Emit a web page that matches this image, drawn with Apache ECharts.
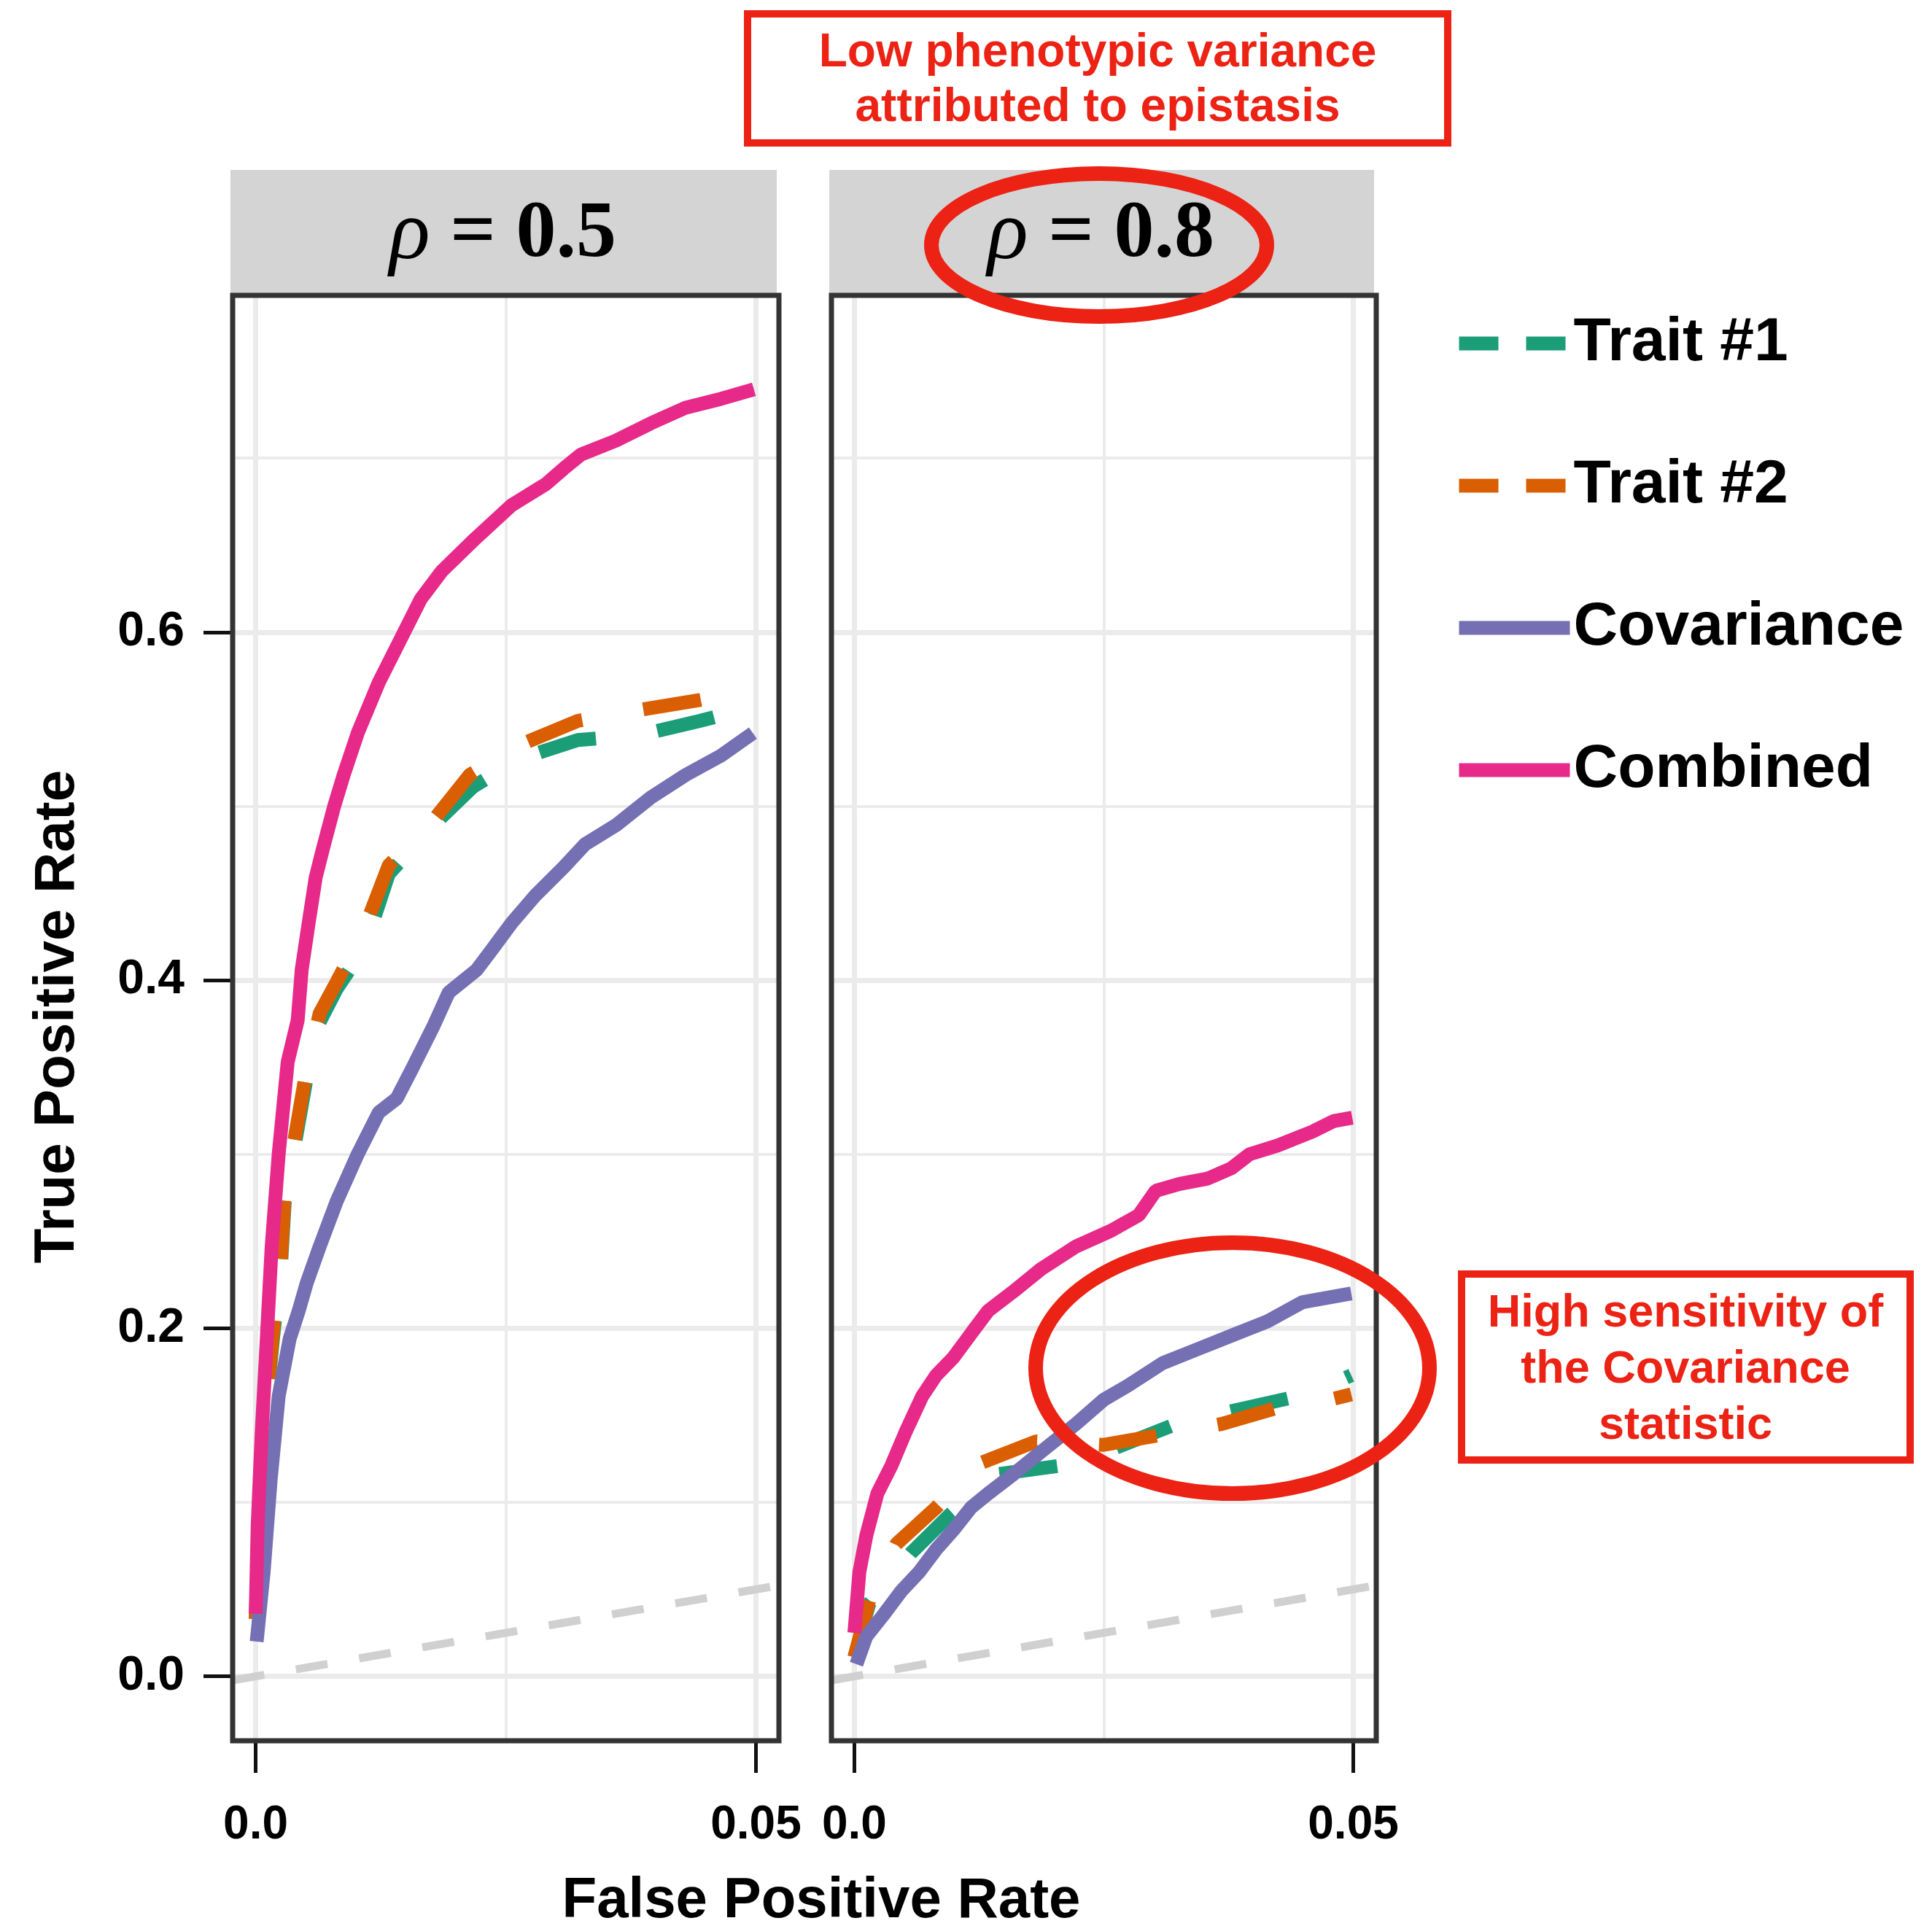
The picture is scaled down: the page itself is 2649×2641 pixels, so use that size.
<!DOCTYPE html>
<html>
<head>
<meta charset="utf-8">
<script src="https://cdn.jsdelivr.net/npm/echarts@6/dist/echarts.min.js"></script>
<style>
  html, body { margin: 0; padding: 0; background: #fff; }
  #chart { width: 2649px; height: 2641px; }
</style>
</head>
<body>
<div id="chart"></div>
<script>
// facet labels and legend names
const panelRho = ['0.5', '0.8']
const seriesNames = ['Trait #1', 'Trait #2', 'Covariance', 'Combined']

// ticks
const xTickValues = [0, 0.05]
const xTickLabels = ['0.0', '0.05']
const xMinorValues = [0.025]
const yTickValues = [0, 0.2, 0.4, 0.6]
const yTickLabels = ['0.0', '0.2', '0.4', '0.6']
const yMinorValues = [0.1, 0.3, 0.5, 0.7]

// rho = 0.5  [FPR, TPR]
const trait1Rho05 = [[0, 0.033], [0.0005, 0.10], [0.0012, 0.163], [0.0018, 0.198], [0.0025, 0.233], [0.0029, 0.272], [0.0039, 0.305], [0.0051, 0.344], [0.0064, 0.376], [0.0081, 0.395], [0.0109, 0.419], [0.0133, 0.461], [0.0172, 0.486], [0.0217, 0.511], [0.0263, 0.527], [0.0322, 0.538], [0.0385, 0.541], [0.0444, 0.549], [0.0498, 0.557]]
const trait2Rho05 = [[0, 0.033], [0.0005, 0.10], [0.0012, 0.165], [0.0018, 0.202], [0.0025, 0.237], [0.0029, 0.277], [0.0039, 0.309], [0.0051, 0.349], [0.0064, 0.381], [0.0081, 0.399], [0.0109, 0.43], [0.0133, 0.466], [0.0175, 0.49], [0.0214, 0.518], [0.0263, 0.535], [0.0322, 0.549], [0.0381, 0.555], [0.0444, 0.561], [0.0497, 0.567]]
const covRho05 = [[0.0001, 0.02], [0.0008, 0.06], [0.0015, 0.113], [0.0023, 0.161], [0.0034, 0.194], [0.0043, 0.21], [0.0051, 0.226], [0.0064, 0.247], [0.0081, 0.273], [0.0102, 0.30], [0.0123, 0.324], [0.0141, 0.332], [0.0158, 0.351], [0.0178, 0.374], [0.0193, 0.393], [0.0221, 0.406], [0.0238, 0.419], [0.0256, 0.433], [0.028, 0.449], [0.0308, 0.465], [0.0329, 0.478], [0.036, 0.489], [0.0395, 0.505], [0.043, 0.518], [0.0465, 0.529], [0.0497, 0.542]]
const combRho05 = [[0, 0.036], [0.0002, 0.087], [0.0006, 0.14], [0.0011, 0.193], [0.0016, 0.247], [0.0023, 0.30], [0.0032, 0.353], [0.0042, 0.377], [0.0046, 0.406], [0.0053, 0.433], [0.006, 0.459], [0.0067, 0.475], [0.0078, 0.499], [0.0088, 0.518], [0.0102, 0.542], [0.0123, 0.571], [0.0144, 0.595], [0.0165, 0.619], [0.0186, 0.635], [0.022, 0.654], [0.0256, 0.673], [0.029, 0.685], [0.0308, 0.694], [0.0325, 0.702], [0.036, 0.710], [0.0395, 0.720], [0.043, 0.729], [0.0465, 0.734], [0.0498, 0.7395]]

// rho = 0.8
const trait1Rho08 = [[0, 0.011], [0.0015, 0.042], [0.0057, 0.071], [0.0094, 0.092], [0.0141, 0.116], [0.0206, 0.121], [0.0256, 0.13], [0.0318, 0.144], [0.0375, 0.152], [0.0437, 0.16], [0.0467, 0.165], [0.0498, 0.173]]
const trait2Rho08 = [[0, 0.011], [0.0015, 0.044], [0.0042, 0.076], [0.0082, 0.097], [0.0124, 0.122], [0.0182, 0.135], [0.0249, 0.133], [0.031, 0.139], [0.0368, 0.145], [0.0434, 0.156], [0.0462, 0.157], [0.0498, 0.162]]
const covRho08 = [[0.0002, 0.007], [0.0012, 0.023], [0.003, 0.036], [0.0047, 0.049], [0.0065, 0.06], [0.0082, 0.073], [0.0099, 0.084], [0.0117, 0.097], [0.0134, 0.105], [0.0159, 0.116], [0.0187, 0.129], [0.0222, 0.145], [0.025, 0.159], [0.0274, 0.167], [0.0309, 0.18], [0.0344, 0.188], [0.0379, 0.196], [0.0414, 0.204], [0.0449, 0.215], [0.0498, 0.22]]
const combRho08 = [[0, 0.025], [0.0005, 0.06], [0.0012, 0.081], [0.0023, 0.105], [0.0037, 0.121], [0.0051, 0.14], [0.0068, 0.161], [0.0082, 0.173], [0.0099, 0.183], [0.0117, 0.197], [0.0134, 0.21], [0.0159, 0.221], [0.0187, 0.234], [0.0222, 0.247], [0.0257, 0.256], [0.0285, 0.265], [0.0302, 0.279], [0.0326, 0.283], [0.0354, 0.286], [0.0378, 0.292], [0.0396, 0.30], [0.0424, 0.305], [0.0459, 0.313], [0.048, 0.319], [0.0499, 0.321]]

// y = x reference (chance) line across the panel
const chanceLine = [[-0.0023, -0.0023], [0.0523, 0.0523]]

const panelData = [
	[trait1Rho05, trait2Rho05, covRho05, combRho05],
	[trait1Rho08, trait2Rho08, covRho08, combRho08],
]

const colors = ['#1b9e77', '#d95f02', '#7570b3', '#e7298a']
const dashed = [true, true, false, false]
const SANS = '"Liberation Sans", Arial, Helvetica, sans-serif'
const SERIF = '"Liberation Serif", "Times New Roman", serif'
const RED = '#ec2214'

// panel layout (pixels)
const panels = [
	{ left: 319, top: 405, width: 749, height: 1982 },
	{ left: 1140, top: 405, width: 747, height: 1982 },
]
const STRIP_TOP = 233

const chart = echarts.init(document.getElementById('chart'), null, { renderer: 'canvas' })

function labelOf(values, labels) {
	return v => {
		const i = values.findIndex(t => Math.abs(t - v) < 1e-9)
		return i >= 0 ? labels[i] : ''
	}
}

// ggplot style major / minor grid lines
function gridLines() {
	const major = 7, minor = 4
	const d = []
	xTickValues.forEach(v => d.push({ xAxis: v, lineStyle: { width: major } }))
	xMinorValues.forEach(v => d.push({ xAxis: v, lineStyle: { width: minor } }))
	yTickValues.forEach(v => d.push({ yAxis: v, lineStyle: { width: major } }))
	yMinorValues.forEach(v => d.push({ yAxis: v, lineStyle: { width: minor } }))
	return d
}

const grids = [], xAxes = [], yAxes = [], series = [], graphics = []

panels.forEach((p, i) => {
	grids.push({ left: p.left, top: p.top, width: p.width, height: p.height, show: true, backgroundColor: '#fff', borderWidth: 0 })
	xAxes.push({
		gridIndex: i, type: 'value', min: -0.0023, max: 0.0523,
		axisLine: { show: false, onZero: false }, splitLine: { show: false },
		axisTick: { show: true, customValues: xTickValues, length: 44, lineStyle: { color: '#111', width: 5 } },
		axisLabel: {
			customValues: xTickValues, formatter: labelOf(xTickValues, xTickLabels),
			margin: 84, fontSize: 64, lineHeight: 64, fontWeight: 'bold', color: '#000', fontFamily: SANS,
		},
	})
	yAxes.push({
		gridIndex: i, type: 'value', min: -0.037, max: 0.7935,
		axisLine: { show: false, onZero: false }, splitLine: { show: false },
		axisTick: { show: i === 0, customValues: yTickValues, length: 40, lineStyle: { color: '#111', width: 5 } },
		axisLabel: {
			show: i === 0, customValues: yTickValues, formatter: labelOf(yTickValues, yTickLabels),
			margin: 66, fontSize: 66, fontWeight: 'bold', color: '#000', fontFamily: SANS,
		},
	})

	// chance line, also carries the panel grid lines as markLine
	series.push({
		type: 'line', xAxisIndex: i, yAxisIndex: i, data: chanceLine,
		symbol: 'none', silent: true, z: 2,
		lineStyle: { color: '#d0d0d0', width: 11, type: [44, 44] },
		markLine: {
			silent: true, symbol: ['none', 'none'], z: 1, animation: false, precision: 6,
			label: { show: false },
			lineStyle: { color: '#ebebeb', type: 'solid' },
			data: gridLines(),
		},
	})

	panelData[i].forEach((d, k) => {
		series.push({
			name: seriesNames[k], type: 'line', xAxisIndex: i, yAxisIndex: i, data: d,
			symbol: 'none', showSymbol: false, z: 3,
			lineStyle: { color: colors[k], width: 19, type: dashed[k] ? [80, 85] : 'solid' },
			itemStyle: { color: colors[k] },
		})
	})

	// facet strip
	graphics.push({
		type: 'rect', z: 5,
		shape: { x: p.left - 3, y: STRIP_TOP, width: p.width, height: p.top - STRIP_TOP },
		style: { fill: '#d4d4d4' },
	})
	graphics.push({
		type: 'text', z: 6, x: p.left + p.width / 2 - 4, y: (STRIP_TOP + p.top) / 2 + 4,
		style: {
			text: '{r|ρ} = ' + panelRho[i],
			font: 'bold 110px ' + SERIF, fontSize: 110, fontWeight: 'bold', fontFamily: SERIF,
			fill: '#000', align: 'center', verticalAlign: 'middle', textAlign: 'center', textVerticalAlign: 'middle',
			rich: { r: { fontStyle: 'italic', fontWeight: 'normal', fontSize: 116, fontFamily: SERIF } },
		},
	})
	// panel border
	graphics.push({
		type: 'rect', z: 8,
		shape: { x: p.left, y: p.top, width: p.width, height: p.height },
		style: { fill: null, stroke: '#333', lineWidth: 7 },
	})
})

// axis titles
graphics.push({
	type: 'text', z: 6, x: 79, y: 1394, rotation: Math.PI / 2,
	style: {
		text: 'True Positive Rate', fontSize: 78, fontWeight: 'bold', fontFamily: SANS, fill: '#000',
		align: 'center', verticalAlign: 'middle', textAlign: 'center', textVerticalAlign: 'middle',
	},
})
graphics.push({
	type: 'text', z: 6, x: 1126, y: 2607,
	style: {
		text: 'False Positive Rate', fontSize: 78, fontWeight: 'bold', fontFamily: SANS, fill: '#000',
		align: 'center', verticalAlign: 'middle', textAlign: 'center', textVerticalAlign: 'middle',
	},
})

// annotations
graphics.push({
	type: 'rect', z: 9,
	shape: { x: 1025, y: 19, width: 960, height: 177 },
	style: { fill: null, stroke: RED, lineWidth: 10 },
})
graphics.push({
	type: 'text', z: 9, x: 1505, y: 111,
	style: {
		text: 'Low phenotypic variance\nattributed to epistasis', fontSize: 64, lineHeight: 75,
		fontWeight: 'bold', fontFamily: SANS, fill: RED,
		align: 'center', verticalAlign: 'middle', textAlign: 'center', textVerticalAlign: 'middle',
	},
})
graphics.push({
	type: 'ellipse', z: 9,
	shape: { cx: 1507, cy: 336, rx: 230, ry: 98 },
	style: { fill: null, stroke: RED, lineWidth: 20 },
})
graphics.push({
	type: 'ellipse', z: 9,
	shape: { cx: 1690, cy: 1876, rx: 270, ry: 172 },
	style: { fill: null, stroke: RED, lineWidth: 20 },
})
graphics.push({
	type: 'rect', z: 9,
	shape: { x: 2004, y: 1747, width: 615, height: 255 },
	style: { fill: null, stroke: RED, lineWidth: 10 },
})
graphics.push({
	type: 'text', z: 9, x: 2311, y: 1879,
	style: {
		text: 'High sensitivity of\nthe Covariance\nstatistic', fontSize: 63, lineHeight: 77,
		fontWeight: 'bold', fontFamily: SANS, fill: RED,
		align: 'center', verticalAlign: 'middle', textAlign: 'center', textVerticalAlign: 'middle',
	},
})

chart.setOption({
	animation: false,
	backgroundColor: '#fff',
	grid: grids,
	xAxis: xAxes,
	yAxis: yAxes,
	legend: {
		orient: 'vertical', left: 1986, top: 416,
		itemWidth: 152, itemHeight: 20, itemGap: 95, selectedMode: false,
		textStyle: { fontSize: 84, lineHeight: 100, fontWeight: 'bold', color: '#000', fontFamily: SANS },
		data: seriesNames.map((n, k) => ({
			name: n,
			itemStyle: { opacity: 0 },
			lineStyle: { type: dashed[k] ? [54, 38] : 'solid', width: 19, opacity: 1 },
		})),
	},
	series: series,
	graphic: graphics,
})
</script>
</body>
</html>
